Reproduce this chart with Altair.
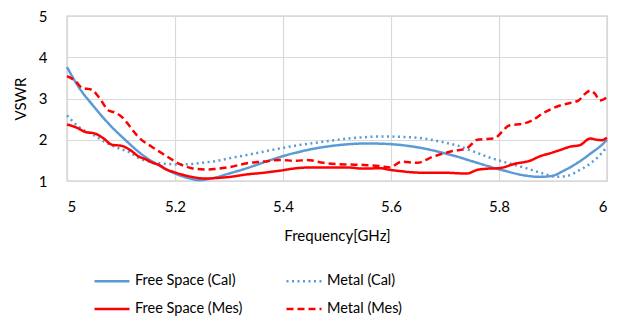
import altair as alt
import pandas as pd

# ---- data ----
series_names = ["Free Space (Cal)", "Metal (Cal)", "Free Space (Mes)", "Metal (Mes)"]

fs_cal_f = [5.00, 5.02, 5.05, 5.08, 5.11, 5.14, 5.17, 5.20, 5.225, 5.245, 5.27, 5.30, 5.333, 5.364,
            5.394, 5.425, 5.456, 5.49, 5.52, 5.555, 5.59, 5.62, 5.66, 5.70, 5.72, 5.75, 5.78, 5.81,
            5.845, 5.876, 5.90, 5.92, 5.95, 5.97, 5.99, 6.00]
fs_cal_v = [3.76, 3.31, 2.80, 2.35, 1.97, 1.63, 1.38, 1.18, 1.07, 1.02, 1.07, 1.18, 1.31, 1.45,
            1.58, 1.69, 1.78, 1.85, 1.89, 1.91, 1.90, 1.87, 1.79, 1.67, 1.60, 1.48, 1.36, 1.25,
            1.14, 1.10, 1.13, 1.25, 1.48, 1.67, 1.87, 2.00]

m_cal_f = [5.00, 5.022, 5.05, 5.07, 5.096, 5.117, 5.132, 5.157, 5.18, 5.206, 5.23, 5.256, 5.274,
           5.30, 5.333, 5.364, 5.394, 5.425, 5.456, 5.49, 5.52, 5.55, 5.58, 5.62, 5.66, 5.70,
           5.72, 5.75, 5.78, 5.81, 5.845, 5.88, 5.907, 5.925, 5.95, 5.97, 5.987, 6.00]
m_cal_v = [2.59, 2.31, 2.11, 1.95, 1.79, 1.69, 1.56, 1.46, 1.42, 1.40, 1.41, 1.45, 1.48,
           1.55, 1.63, 1.71, 1.79, 1.86, 1.92, 1.98, 2.03, 2.06, 2.08, 2.07, 2.03, 1.93,
           1.87, 1.73, 1.58, 1.46, 1.33, 1.19, 1.10, 1.12, 1.27, 1.43, 1.63, 1.83]

fs_mes_f = [5.000, 5.015, 5.034, 5.052, 5.068, 5.083, 5.102, 5.117, 5.132, 5.147, 5.157, 5.172,
            5.181, 5.197, 5.215, 5.231, 5.256, 5.274, 5.302, 5.333, 5.364, 5.394, 5.425, 5.456,
            5.487, 5.518, 5.549, 5.58, 5.598, 5.617, 5.64, 5.66, 5.70, 5.74, 5.76, 5.78, 5.80,
            5.83, 5.857, 5.876, 5.894, 5.913, 5.931, 5.95, 5.969, 5.981, 5.99, 6.00]
fs_mes_v = [2.37, 2.31, 2.19, 2.15, 2.03, 1.88, 1.85, 1.75, 1.60, 1.52, 1.45, 1.38,
            1.30, 1.22, 1.15, 1.10, 1.06, 1.07, 1.10, 1.16, 1.20, 1.25, 1.31, 1.33,
            1.33, 1.33, 1.30, 1.31, 1.27, 1.24, 1.21, 1.20, 1.20, 1.18, 1.27, 1.30, 1.31,
            1.42, 1.49, 1.60, 1.67, 1.75, 1.83, 1.87, 2.03, 2.00, 1.99, 2.05]

m_mes_f = [5.000, 5.015, 5.028, 5.046, 5.059, 5.077, 5.089, 5.105, 5.117, 5.132, 5.157, 5.181,
           5.206, 5.231, 5.256, 5.274, 5.302, 5.333, 5.364, 5.394, 5.425, 5.444, 5.475, 5.518,
           5.549, 5.58, 5.598, 5.62, 5.648, 5.678, 5.709, 5.74, 5.76, 5.79, 5.82, 5.845, 5.864,
           5.88, 5.913, 5.931, 5.947, 5.959, 5.969, 5.978, 5.987, 6.00]
m_mes_v = [3.54, 3.43, 3.26, 3.21, 3.03, 2.71, 2.66, 2.51, 2.31, 2.07, 1.83, 1.63,
           1.43, 1.31, 1.28, 1.29, 1.34, 1.43, 1.47, 1.51, 1.49, 1.51, 1.44, 1.40,
           1.39, 1.36, 1.33, 1.47, 1.44, 1.59, 1.71, 1.79, 2.00, 2.03, 2.35, 2.39, 2.49,
           2.63, 2.83, 2.89, 2.95, 3.11, 3.19, 3.11, 2.95, 3.03]

x_ticks = [5.0, 5.2, 5.4, 5.6, 5.8, 6.0]
y_ticks = [1, 2, 3, 4, 5]

colors = ["#5B9BD5", "#5B9BD5", "#FF0000", "#FF0000"]
dashes = [[1, 0], [2, 3.5], [1, 0], [7, 4]]

rows = []
for name, fs, vs in zip(series_names,
                        [fs_cal_f, m_cal_f, fs_mes_f, m_mes_f],
                        [fs_cal_v, m_cal_v, fs_mes_v, m_mes_v]):
    for f, v in zip(fs, vs):
        rows.append({"series": name, "freq": f, "vswr": v})
df = pd.DataFrame(rows)

FONT = "Lato"

legend = alt.Legend(
    title=None, orient="none", legendX=26, legendY=246, columns=2, direction="horizontal",
    symbolType="stroke", symbolSize=1225, symbolStrokeWidth=2.5, labelFontSize=14.5,
    labelFont=FONT, labelColor="#000000", columnPadding=38, rowPadding=2,
    labelOffset=4, padding=0, labelLimit=300,
)

chart = alt.Chart(df).mark_line(strokeWidth=2.5, interpolate="monotone").encode(
    x=alt.X("freq:Q", title="Frequency[GHz]",
            scale=alt.Scale(domain=[5, 6], nice=False),
            axis=alt.Axis(values=x_ticks, format="~g", labelPadding=18, titlePadding=14)),
    y=alt.Y("vswr:Q", title="VSWR",
            scale=alt.Scale(domain=[1, 5], nice=False),
            axis=alt.Axis(values=y_ticks, labelPadding=20, titlePadding=10)),
    color=alt.Color("series:N", scale=alt.Scale(domain=series_names, range=colors), legend=legend),
    strokeDash=alt.StrokeDash("series:N", scale=alt.Scale(domain=series_names, range=dashes), legend=legend),
    order=alt.Order("freq:Q"),
).properties(
    width=540, height=165,
    autosize=alt.AutoSizeParams(type="none"),
    padding={"left": 59, "top": 8, "right": 6, "bottom": 137},
).configure_view(
    stroke="#d9d9d9", strokeWidth=1.5,
).configure_axis(
    grid=True, gridColor="#d9d9d9", gridWidth=1.2, domain=False, ticks=False,
    labelFont=FONT, labelFontSize=15, labelColor="#000000",
    titleFont=FONT, titleFontSize=15, titleFontWeight="normal", titleColor="#000000",
)

chart.save("out.html", embed_options={"renderer": "svg", "actions": False})
